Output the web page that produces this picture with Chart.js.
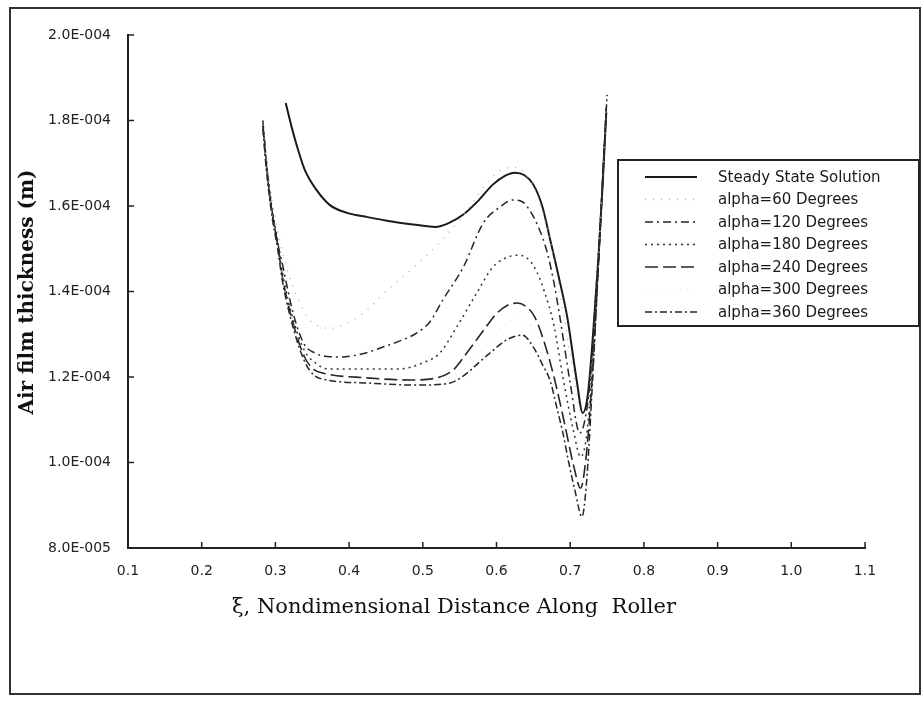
<!DOCTYPE html>
<html>
<head>
<meta charset="utf-8">
<script src="https://cdn.jsdelivr.net/npm/chart.js@4.4.1/dist/chart.umd.min.js"></script>
<style>
  html, body { margin: 0; padding: 0; background: #fff; }
  #wrap { width: 922px; height: 703px; }
</style>
</head>
<body>
<div id="wrap"><canvas id="filmChart" width="922" height="703"></canvas></div>
<script>
// values, thickness in units of 1E-004 m
var xTicks = [0.1, 0.2, 0.3, 0.4, 0.5, 0.6, 0.7, 0.8, 0.9, 1.0, 1.1];
var yTicks = [0.8, 1.0, 1.2, 1.4, 1.6, 1.8, 2.0];
var seriesNames = ["Steady State Solution", "alpha=60 Degrees", "alpha=120 Degrees", "alpha=180 Degrees",
    "alpha=240 Degrees", "alpha=300 Degrees", "alpha=360 Degrees"];

var xSteady = [0.314, 0.322, 0.331, 0.340, 0.356, 0.374, 0.397, 0.425, 0.460, 0.490, 0.517, 0.535, 0.555, 0.575,
    0.595, 0.612, 0.625, 0.638, 0.650, 0.662, 0.673, 0.685, 0.696, 0.709, 0.717, 0.724, 0.731, 0.738, 0.744, 0.749];
var ySteady = [1.841, 1.785, 1.73, 1.684, 1.637, 1.602, 1.584, 1.574, 1.563, 1.556, 1.551, 1.56, 1.58, 1.612,
    1.65, 1.671, 1.678, 1.672, 1.65, 1.60, 1.52, 1.43, 1.34, 1.19, 1.116, 1.16, 1.30, 1.47, 1.65, 1.82];

var x60 = [0.283, 0.290, 0.300, 0.310, 0.322, 0.333, 0.347, 0.360, 0.375, 0.397, 0.419, 0.450, 0.490, 0.526,
    0.560, 0.590, 0.614, 0.628, 0.645, 0.660, 0.675, 0.690, 0.705, 0.718, 0.726, 0.735, 0.742, 0.749];
var y60 = [1.80, 1.68, 1.57, 1.49, 1.42, 1.373, 1.333, 1.318, 1.314, 1.326, 1.349, 1.40, 1.46, 1.52,
    1.59, 1.66, 1.689, 1.69, 1.66, 1.60, 1.50, 1.36, 1.20, 1.10, 1.16, 1.38, 1.60, 1.82];

var x120 = [0.283, 0.288, 0.293, 0.300, 0.310, 0.324, 0.338, 0.355, 0.370, 0.388, 0.420, 0.446, 0.470, 0.492,
    0.510, 0.527, 0.555, 0.582, 0.605, 0.622, 0.635, 0.645, 0.657, 0.669, 0.678, 0.686, 0.700, 0.713, 0.720,
    0.727, 0.735, 0.742, 0.749];
var y120 = [1.80, 1.70, 1.62, 1.54, 1.46, 1.35, 1.28, 1.255, 1.248, 1.247, 1.255, 1.27, 1.285, 1.303,
    1.33, 1.38, 1.457, 1.56, 1.598, 1.614, 1.61, 1.59, 1.55, 1.49, 1.42, 1.34, 1.186, 1.069, 1.10,
    1.19, 1.40, 1.60, 1.83];

var x180 = [0.283, 0.288, 0.295, 0.303, 0.310, 0.325, 0.340, 0.355, 0.370, 0.415, 0.469, 0.500, 0.523, 0.546,
    0.573, 0.595, 0.612, 0.628, 0.640, 0.652, 0.665, 0.678, 0.690, 0.705, 0.714, 0.722, 0.730, 0.737, 0.743, 0.749];
var y180 = [1.79, 1.70, 1.60, 1.52, 1.44, 1.33, 1.26, 1.232, 1.219, 1.219, 1.219, 1.233, 1.256, 1.317,
    1.396, 1.457, 1.478, 1.485, 1.48, 1.455, 1.40, 1.32, 1.20, 1.07, 1.013, 1.06, 1.22, 1.42, 1.62, 1.82];

var x240 = [0.283, 0.288, 0.295, 0.303, 0.310, 0.325, 0.340, 0.352, 0.365, 0.424, 0.483, 0.519, 0.541, 0.557,
    0.573, 0.587, 0.601, 0.615, 0.628, 0.640, 0.652, 0.665, 0.678, 0.690, 0.705, 0.714, 0.722, 0.730, 0.737,
    0.743, 0.749];
var y240 = [1.79, 1.69, 1.59, 1.51, 1.43, 1.32, 1.245, 1.218, 1.209, 1.198, 1.193, 1.198, 1.216, 1.25,
    1.287, 1.32, 1.35, 1.368, 1.373, 1.365, 1.34, 1.28, 1.20, 1.11, 0.99, 0.94, 1.02, 1.20, 1.42,
    1.62, 1.83];

var x300 = [0.283, 0.295, 0.310, 0.325, 0.340, 0.370, 0.430, 0.490, 0.530, 0.560, 0.590, 0.615, 0.633, 0.650,
    0.665, 0.680, 0.695, 0.706, 0.715, 0.722, 0.730, 0.740, 0.749];
var y300 = [1.79, 1.59, 1.43, 1.315, 1.24, 1.20, 1.192, 1.188, 1.195, 1.225, 1.28, 1.325, 1.335, 1.31,
    1.25, 1.15, 1.02, 0.93, 0.885, 0.95, 1.18, 1.52, 1.84];

var x360 = [0.283, 0.288, 0.295, 0.303, 0.310, 0.325, 0.340, 0.352, 0.370, 0.424, 0.492, 0.537, 0.560, 0.575,
    0.591, 0.614, 0.635, 0.650, 0.662, 0.673, 0.683, 0.690, 0.698, 0.707, 0.716, 0.722, 0.730, 0.737, 0.743, 0.750];
var y360 = [1.78, 1.68, 1.58, 1.50, 1.42, 1.31, 1.235, 1.205, 1.193, 1.186, 1.181, 1.186, 1.209, 1.232,
    1.256, 1.287, 1.298, 1.27, 1.23, 1.19, 1.12, 1.07, 1.00, 0.93, 0.873, 0.95, 1.18, 1.42, 1.63, 1.86];

function pairs(xs, ys) {
    return xs.map(function (x, i) { return { x: x, y: ys[i] }; });
}

var lineStyles = [
    { color: '#1a1a1a', width: 2, dash: [] },
    { color: '#b5b5b5', width: 1.5, dash: [1, 7] },
    { color: '#262626', width: 1.5, dash: [8, 4, 2, 4] },
    { color: '#333333', width: 1.5, dash: [2, 4] },
    { color: '#262626', width: 1.6, dash: [13, 5] },
    { color: '#e4e4e4', width: 1.2, dash: [1, 6] },
    { color: '#262626', width: 1.5, dash: [7, 3, 2, 3] }
];
var seriesData = [
    pairs(xSteady, ySteady), pairs(x60, y60), pairs(x120, y120), pairs(x180, y180),
    pairs(x240, y240), pairs(x300, y300), pairs(x360, y360)
];

function sciLabel(v) {
    var m = +(v * 1e-4).toPrecision(6);
    var e = Math.floor(Math.log10(m) + 1e-9);
    var mant = m / Math.pow(10, e);
    return mant.toFixed(1) + 'E-' + String(-e).padStart(3, '0');
}

// frame, inward ticks, axis titles and the boxed legend
var decorPlugin = {
    id: 'decor',
    afterDraw: function (chart) {
        var ctx = chart.ctx;
        var xs = chart.scales.x, ys = chart.scales.y;
        var area = chart.chartArea;
        ctx.save();
        ctx.strokeStyle = '#333';
        ctx.lineWidth = 2;
        ctx.strokeRect(10, 8, 910, 686);

        ctx.lineWidth = 1.5;
        ctx.strokeStyle = '#222';
        ctx.beginPath();
        xTicks.forEach(function (t) {
            var px = xs.getPixelForValue(t);
            ctx.moveTo(px, area.bottom);
            ctx.lineTo(px, area.bottom - 6);
        });
        yTicks.forEach(function (t) {
            var py = ys.getPixelForValue(t);
            ctx.moveTo(area.left, py);
            ctx.lineTo(area.left + 6, py);
        });
        ctx.stroke();

        ctx.fillStyle = '#111';
        ctx.textAlign = 'center';
        ctx.textBaseline = 'middle';
        ctx.font = '21px "DejaVu Serif"';
        ctx.fillText('\u03be, Nondimensional Distance Along  Roller', 454, 608);

        ctx.translate(28, 292);
        ctx.rotate(-Math.PI / 2);
        ctx.font = 'bold 20px "DejaVu Serif"';
        ctx.fillText('Air film thickness (m)', 0, 0);
        ctx.restore();

        // legend
        ctx.save();
        ctx.fillStyle = '#fff';
        ctx.fillRect(618, 160, 301, 166);
        ctx.strokeStyle = '#222';
        ctx.lineWidth = 2;
        ctx.strokeRect(618, 160, 301, 166);
        ctx.font = '15px "DejaVu Sans"';
        ctx.textAlign = 'left';
        ctx.textBaseline = 'middle';
        seriesNames.forEach(function (name, i) {
            var y = 177 + i * 22.5;
            var st = lineStyles[i];
            ctx.strokeStyle = st.color;
            ctx.lineWidth = st.width;
            ctx.setLineDash(st.dash);
            ctx.beginPath();
            ctx.moveTo(645, y);
            ctx.lineTo(697, y);
            ctx.stroke();
            ctx.setLineDash([]);
            ctx.fillStyle = '#1a1a1a';
            ctx.fillText(name, 718, y + 1);
        });
        ctx.restore();
    }
};

var ctx = document.getElementById('filmChart');
new Chart(ctx, {
    type: 'scatter',
    data: {
        datasets: seriesData.map(function (d, i) {
            return {
                label: seriesNames[i],
                data: d,
                showLine: true,
                borderColor: lineStyles[i].color,
                borderWidth: lineStyles[i].width,
                borderDash: lineStyles[i].dash,
                pointRadius: 0,
                cubicInterpolationMode: 'monotone',
                fill: false
            };
        }).reverse()
    },
    options: {
        responsive: false,
        animation: false,
        layout: {
            padding: { left: 0, right: 57, top: 35, bottom: 0 }
        },
        plugins: {
            legend: { display: false },
            tooltip: { enabled: false }
        },
        scales: {
            x: {
                type: 'linear',
                min: 0.1,
                max: 1.1,
                afterFit: function (s) { s.height = 155; },
                afterBuildTicks: function (s) { s.ticks = xTicks.map(function (v) { return { value: v }; }); },
                grid: { display: false },
                border: { display: true, color: '#222', width: 2 },
                ticks: {
                    padding: 7,
                    color: '#222',
                    font: { family: "'DejaVu Sans', sans-serif", size: 14 },
                    callback: function (v) { return v.toFixed(1); }
                }
            },
            y: {
                type: 'linear',
                min: 0.8,
                max: 2.0,
                afterFit: function (s) { s.width = 128; },
                afterBuildTicks: function (s) { s.ticks = yTicks.map(function (v) { return { value: v }; }); },
                grid: { display: false },
                border: { display: true, color: '#222', width: 2 },
                ticks: {
                    padding: 9,
                    color: '#222',
                    font: { family: "'DejaVu Sans', sans-serif", size: 14 },
                    callback: function (v) { return sciLabel(v); }
                }
            }
        }
    },
    plugins: [decorPlugin]
});
</script>
</body>
</html>
